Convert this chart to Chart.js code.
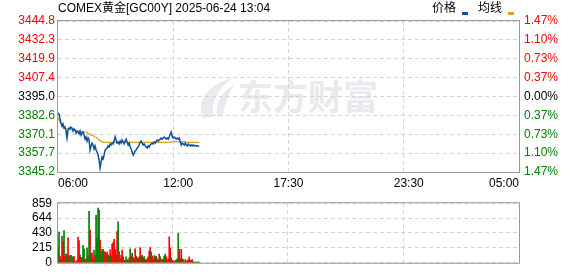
<!DOCTYPE html>
<html>
<head>
<meta charset="utf-8">
<script src="https://cdn.jsdelivr.net/npm/chart.js@4/dist/chart.umd.min.js"></script>
<style>
html, body { margin: 0; padding: 0; background: #fff; width: 578px; height: 276px; overflow: hidden; }
#priceChart { position: absolute; left: 0; top: 0; }
#volChart { position: absolute; left: 0; top: 190px; }
</style>
</head>
<body>
<canvas id="priceChart" width="578" height="190"></canvas>
<canvas id="volChart" width="578" height="86"></canvas>
<script>
// COMEX gold intraday, one point per 3 minutes from 06:00
var title = "COMEX黄金[GC00Y] 2025-06-24 13:04";
var prevClose = 3395.0;
var priceTicks = [3345.2, 3357.7, 3370.1, 3382.6, 3395.0, 3407.4, 3419.9, 3432.3, 3444.8];
var pctLabels = ["1.47%", "1.10%", "0.73%", "0.37%", "0.00%", "0.37%", "0.73%", "1.10%", "1.47%"];
var volTicks = [0, 215, 430, 644, 859];
var timeTickLabels = ["06:00", "12:00", "17:30", "23:30", "05:00"];

var price = [
  3384.1, 3383.5, 3380.2, 3377.5, 3375.5, 3376.9, 3374.2, 3374.9, 3372.2, 3367.6,
  3372.9, 3374.2, 3373.6, 3374.9, 3374.2, 3372.2, 3373.6, 3372.9, 3370.9, 3372.2,
  3371.6, 3370.3, 3372.2, 3369.6, 3370.9, 3371.6, 3369.6, 3366.9, 3368.3, 3365.6,
  3367.6, 3366.3, 3359.7, 3362.4, 3364.3, 3363.0, 3360.4, 3362.4, 3359.7, 3358.4,
  3356.4, 3353.1, 3347.8, 3351.8, 3355.1, 3353.8, 3356.4, 3359.7, 3360.4, 3361.0,
  3362.4, 3361.7, 3363.7, 3363.0, 3364.3, 3363.7, 3365.6, 3368.3, 3366.3, 3364.3,
  3365.0, 3363.7, 3365.6, 3364.3, 3366.3, 3365.0, 3363.7, 3365.6, 3366.9, 3365.0,
  3363.0, 3364.3, 3361.7, 3360.4, 3358.4, 3356.4, 3357.7, 3359.1, 3359.7, 3361.0,
  3361.7, 3363.0, 3365.0, 3365.6, 3364.3, 3363.0, 3363.7, 3362.4, 3361.7, 3361.0,
  3362.4, 3361.7, 3363.0, 3363.7, 3364.3, 3363.7, 3365.0, 3364.3, 3365.6, 3366.3,
  3365.6, 3366.3, 3366.9, 3367.6, 3366.9, 3367.6, 3368.3, 3367.6, 3366.9, 3367.6,
  3366.9, 3368.3, 3370.3, 3371.6, 3368.3, 3367.6, 3368.3, 3367.6, 3366.9, 3367.6,
  3366.9, 3367.6, 3365.0, 3363.0, 3364.3, 3363.7, 3363.0, 3364.3, 3363.0, 3362.4,
  3363.7, 3363.0, 3362.4, 3363.0, 3362.4, 3363.0, 3362.4, 3362.7, 3362.4, 3362.4,
  3362.4, 3362.4
];

var avgPrice = [
  3380.8, 3379.5, 3378.2, 3376.9, 3375.5, 3374.9, 3374.2, 3373.9, 3373.6, 3373.6,
  3373.6, 3373.6, 3373.6, 3372.9, 3372.9, 3372.9, 3372.9, 3372.9, 3372.2, 3372.2,
  3372.2, 3372.2, 3372.2, 3372.2, 3371.6, 3371.6, 3371.6, 3371.6, 3371.6, 3371.6,
  3370.3, 3370.3, 3370.3, 3369.3, 3369.3, 3369.3, 3368.3, 3368.3, 3368.3, 3367.3,
  3367.3, 3366.0, 3366.0, 3365.3, 3365.3, 3364.7, 3364.7, 3364.7, 3364.7, 3364.7,
  3364.7, 3364.7, 3364.7, 3364.7, 3364.7, 3364.7, 3364.7, 3364.7, 3364.7, 3364.7,
  3364.7, 3364.7, 3364.7, 3364.7, 3364.7, 3364.7, 3364.7, 3364.7, 3364.7, 3364.7,
  3364.7, 3364.7, 3364.7, 3364.7, 3364.7, 3364.7, 3364.7, 3364.7, 3364.7, 3364.7,
  3364.7, 3364.7, 3364.7, 3364.7, 3364.7, 3364.7, 3364.7, 3364.7, 3364.7, 3364.7,
  3364.7, 3364.7, 3364.7, 3364.7, 3364.7, 3364.7, 3364.7, 3364.7, 3364.7, 3364.7,
  3364.7, 3364.7, 3364.7, 3364.7, 3364.7, 3364.7, 3364.7, 3364.7, 3364.7, 3364.7,
  3364.7, 3364.7, 3364.7, 3365.3, 3365.3, 3365.3, 3365.3, 3365.3, 3365.3, 3365.3,
  3365.3, 3365.3, 3365.3, 3365.3, 3365.3, 3365.3, 3365.3, 3365.3, 3364.7, 3364.7,
  3364.7, 3364.7, 3364.7, 3364.7, 3364.7, 3364.7, 3364.7, 3364.7, 3364.7, 3364.7,
  3364.7, 3364.7
];

var volume = [
  221, 441, 97, 58, 383, 310, 464, 97, 128, 116,
  360, 97, 104, 108, 77, 89, 89, 19, 19, 39,
  371, 321, 116, 77, 70, 252, 201, 46, 58, 213,
  104, 743, 472, 128, 143, 70, 182, 108, 685, 364,
  789, 755, 329, 155, 194, 194, 163, 155, 124, 155,
  116, 97, 186, 104, 271, 290, 337, 194, 116, 449,
  592, 163, 58, 108, 182, 85, 35, 31, 85, 46,
  31, 70, 201, 97, 135, 77, 58, 201, 97, 70,
  66, 85, 221, 97, 108, 70, 89, 46, 39, 58,
  85, 170, 221, 155, 97, 46, 104, 85, 97, 58,
  39, 124, 85, 46, 46, 54, 97, 124, 85, 31,
  58, 375, 213, 77, 31, 27, 19, 31, 39, 58,
  426, 194, 58, 194, 58, 46, 15, 46, 19, 31,
  46, 85, 31, 39, 46, 15, 12, 12, 12, 12,
  12, 12
];

// 1 = up (red), -1 = down (green)
var volDir = [
  1, -1, 1, 1, -1, 1, -1, 1, 1, -1,
  1, 1, -1, -1, 1, -1, 1, 1, 1, 1,
  1, 1, -1, 1, -1, -1, -1, 1, 1, -1,
  1, -1, 1, -1, 1, 1, -1, 1, -1, -1,
  -1, -1, 1, -1, -1, -1, 1, 1, -1, 1,
  1, -1, 1, -1, 1, 1, 1, 1, -1, 1,
  -1, 1, -1, 1, 1, 1, -1, 1, -1, -1,
  1, -1, -1, 1, -1, 1, -1, 1, 1, -1,
  1, 1, 1, -1, -1, 1, -1, 1, -1, 1,
  1, 1, 1, -1, 1, 1, -1, 1, -1, 1,
  -1, 1, -1, 1, -1, 1, -1, -1, 1, 1,
  1, 1, 1, -1, 1, 1, -1, 1, -1, -1,
  -1, 1, -1, 1, -1, 1, -1, 1, -1, 1,
  1, 1, 1, -1, 1, -1, -1, -1, -1, -1,
  -1, -1
];

var RED = "#ff0000", GREEN = "#008000", GRID = "#d4d4d4";
var FONT = { family: "'Liberation Sans', 'Noto Sans CJK SC', sans-serif", size: 12 };

function pad(n) { return n < 10 ? "0" + n : "" + n; }
function timeIndex(s) {
  var p = s.split(":");
  return ((+p[0] * 60 + +p[1]) - 360 + 1440) % 1440 / 3;
}

// session 06:00 -> 05:00, 3-minute slots
var times = [];
for (var i = 0; i <= 460; i++) {
  var m = (360 + i * 3) % 1440;
  times.push(pad(Math.floor(m / 60)) + ":" + pad(m % 60));
}
var tickLabelAt = {};
timeTickLabels.forEach(function (s) { tickLabelAt[timeIndex(s)] = s; });
var gridAt = [115, 230, 345];

function xAxis(showLabels) {
  return {
    type: "category",
    offset: false,
    border: { display: false, dash: [4, 3] },
    grid: {
      drawTicks: false,
      color: function (c) { return gridAt.indexOf(c.index) >= 0 ? GRID : "rgba(0,0,0,0)"; }
    },
    ticks: {
      display: showLabels,
      autoSkip: false,
      maxRotation: 0,
      minRotation: 0,
      align: "inner",
      padding: 4,
      color: "#000",
      font: FONT,
      callback: function (v, i) { return tickLabelAt[i] || ""; }
    },
    afterFit: function (s) { s.height = showLabels ? 18 : 6; }
  };
}

function priceColor(c) {
  var v = c.tick.value;
  if (Math.abs(v - prevClose) < 0.01) return "#000";
  return v > prevClose ? RED : GREEN;
}

var boxPlugin = {
  id: "box",
  afterDraw: function (chart) {
    var a = chart.chartArea, ctx = chart.ctx;
    ctx.save();
    ctx.strokeStyle = "#999";
    ctx.lineWidth = 1;
    ctx.strokeRect(a.left - 0.5, a.top - 0.5, a.right - a.left + 1, a.bottom - a.top + 1);
    ctx.restore();
  }
};

var headerPlugin = {
  id: "header",
  beforeDraw: function (chart) {
    var ctx = chart.ctx;
    ctx.save();
    // watermark
    ctx.fillStyle = "#e9e9ee";
    ctx.beginPath();
    ctx.moveTo(203, 118);
    ctx.bezierCurveTo(195, 100, 209, 84, 233, 78);
    ctx.bezierCurveTo(218, 88, 211, 101, 213, 117);
    ctx.closePath();
    ctx.fill();
    ctx.beginPath();
    ctx.moveTo(217, 117);
    ctx.bezierCurveTo(215, 103, 222, 91, 234, 85);
    ctx.bezierCurveTo(227, 96, 225, 106, 223, 116);
    ctx.closePath();
    ctx.fill();
    ctx.font = "bold 35px 'Noto Sans CJK SC'";
    ctx.textBaseline = "middle";
    ctx.textAlign = "left";
    ctx.fillText("东方财富", 238, 97);

    // title and legend
    ctx.font = "12px 'Liberation Sans', 'Noto Sans CJK SC'";
    ctx.fillStyle = "#000";
    ctx.fillText(title, 58, 9);
    ctx.fillText("价格", 432, 9);
    ctx.fillText("均线", 478, 9);
    ctx.fillStyle = "#0d4fa0";
    ctx.fillRect(462, 12, 6, 3);
    ctx.fillStyle = "#dca21f";
    ctx.fillRect(508, 12, 6, 3);
    ctx.restore();
  }
};

new Chart(document.getElementById("priceChart"), {
  type: "line",
  data: {
    labels: times,
    datasets: [
      { label: "价格", data: price, borderColor: "#0d4fa0", borderWidth: 1.5, pointRadius: 0, tension: 0 },
      { label: "均线", data: avgPrice, borderColor: "#dca21f", borderWidth: 1.2, pointRadius: 0, tension: 0 }
    ]
  },
  options: {
    responsive: false,
    animation: false,
    layout: { padding: { top: 21, left: 0, right: 0, bottom: 0 } },
    plugins: { legend: { display: false }, tooltip: { enabled: false } },
    scales: {
      x: xAxis(true),
      y: {
        position: "left",
        min: priceTicks[0],
        max: priceTicks[priceTicks.length - 1],
        afterBuildTicks: function (s) { s.ticks = priceTicks.map(function (v) { return { value: v }; }); },
        border: { display: false, dash: [4, 3] },
        grid: { drawTicks: false, color: GRID },
        ticks: { autoSkip: false, padding: 3, font: FONT, color: priceColor, callback: function (v) { return v.toFixed(1); } },
        afterFit: function (s) { s.width = 58; }
      },
      y1: {
        position: "right",
        min: priceTicks[0],
        max: priceTicks[priceTicks.length - 1],
        afterBuildTicks: function (s) { s.ticks = priceTicks.map(function (v) { return { value: v }; }); },
        border: { display: false },
        grid: { drawTicks: false, drawOnChartArea: false },
        ticks: { autoSkip: false, padding: 5, font: FONT, color: priceColor, callback: function (v, i) { return pctLabels[i]; } },
        afterFit: function (s) { s.width = 59; }
      }
    }
  },
  plugins: [headerPlugin, boxPlugin]
});

new Chart(document.getElementById("volChart"), {
  type: "bar",
  data: {
    labels: times,
    datasets: [{
      label: "成交量",
      data: volume,
      backgroundColor: volDir.map(function (d) { return d > 0 ? RED : GREEN; }),
      barPercentage: 1,
      categoryPercentage: 1
    }]
  },
  options: {
    responsive: false,
    animation: false,
    layout: { padding: { top: 6, left: 0, right: 59, bottom: 0 } },
    plugins: { legend: { display: false }, tooltip: { enabled: false } },
    scales: {
      x: xAxis(false),
      y: {
        position: "left",
        min: volTicks[0],
        max: volTicks[volTicks.length - 1],
        afterBuildTicks: function (s) { s.ticks = volTicks.map(function (v) { return { value: v }; }); },
        border: { display: false, dash: [4, 3] },
        grid: { drawTicks: false, color: GRID },
        ticks: { autoSkip: false, padding: 6, font: FONT, color: "#000" },
        afterFit: function (s) { s.width = 58; }
      }
    }
  },
  plugins: [boxPlugin]
});
</script>
</body>
</html>
